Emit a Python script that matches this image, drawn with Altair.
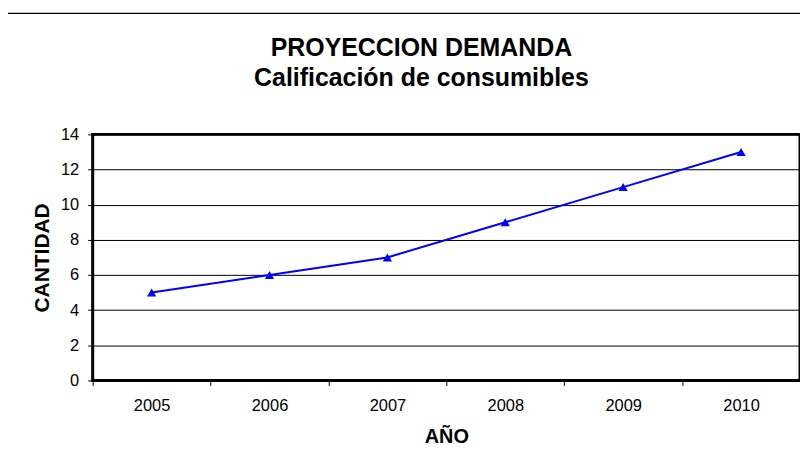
import altair as alt
import pandas as pd

# ---- data ----
years = [2005, 2006, 2007, 2008, 2009, 2010]
cantidad = [5, 6, 7, 9, 11, 13]
x_ticks = [2004.5, 2005, 2005.5, 2006, 2006.5, 2007, 2007.5, 2008, 2008.5,
           2009, 2009.5, 2010, 2010.5]
y_ticks = [0, 2, 4, 6, 8, 10, 12, 14]
title_lines = ["PROYECCION DEMANDA", "Calificación de consumibles"]
x_title = "AÑO"
y_title = "CANTIDAD"

FONT = "Liberation Sans"

df = pd.DataFrame({"anio": years, "cantidad": cantidad})
one = pd.DataFrame({"a": [0]})

x_enc = alt.X(
    "anio:Q",
    scale=alt.Scale(domain=[2004.5, 2010.5], nice=False, zero=False),
    axis=alt.Axis(
        title=x_title,
        values=x_ticks,
        labelExpr="datum.value % 1 == 0 ? format(datum.value, 'd') : ''",
        tickOpacity={"condition": {"test": "datum.value % 1 == 0", "value": 0}, "value": 1},
        tickSize=5,
        tickColor="black",
        domain=False,
        grid=False,
        labelPadding=12,
        labelFont=FONT,
        labelFontSize=16.5,
        labelColor="black",
        titleFont=FONT,
        titleFontSize=20,
        titleFontWeight="bold",
        titleColor="black",
        titlePadding=13,
    ),
)
y_enc = alt.Y(
    "cantidad:Q",
    scale=alt.Scale(domain=[0, 14], nice=False),
    axis=alt.Axis(
        title=y_title,
        values=y_ticks,
        tickSize=5,
        tickColor="black",
        domain=False,
        grid=True,
        gridColor="black",
        gridWidth=1,
        labelPadding=9,
        labelFont=FONT,
        labelFontSize=16.5,
        labelColor="black",
        titleFont=FONT,
        titleFontSize=21,
        titleFontWeight="bold",
        titleColor="black",
        titlePadding=8,
    ),
)

frame = alt.Chart(one).mark_rect(fill=None, stroke="black", strokeWidth=1.3).encode(
    x=alt.value(-86), x2=alt.value(900), y=alt.value(-121.5), y2=alt.value(500)
)

title = alt.Chart(one).mark_text(
    font=FONT, fontSize=25, fontWeight="bold", color="black",
    align="center", baseline="alphabetic", lineHeight=30,
).encode(x=alt.value(330), y=alt.value(-79), text=alt.value(title_lines))

line = alt.Chart(df).mark_line(color="#0000ff", strokeWidth=2).encode(x=x_enc, y=y_enc)
points = alt.Chart(df).mark_point(
    shape="triangle-up", filled=True, color="#0000ff", size=85, opacity=1
).encode(x=x_enc, y=y_enc)

chart = alt.layer(frame, line, points, title).properties(
    width=710,
    height=247,
    autosize=alt.AutoSizeParams(type="none"),
    padding={"left": 85, "top": 126, "right": 0, "bottom": 75},
).configure_view(stroke="black", strokeWidth=3)

chart.save("out.html", embed_options={"renderer": "svg", "actions": False})
